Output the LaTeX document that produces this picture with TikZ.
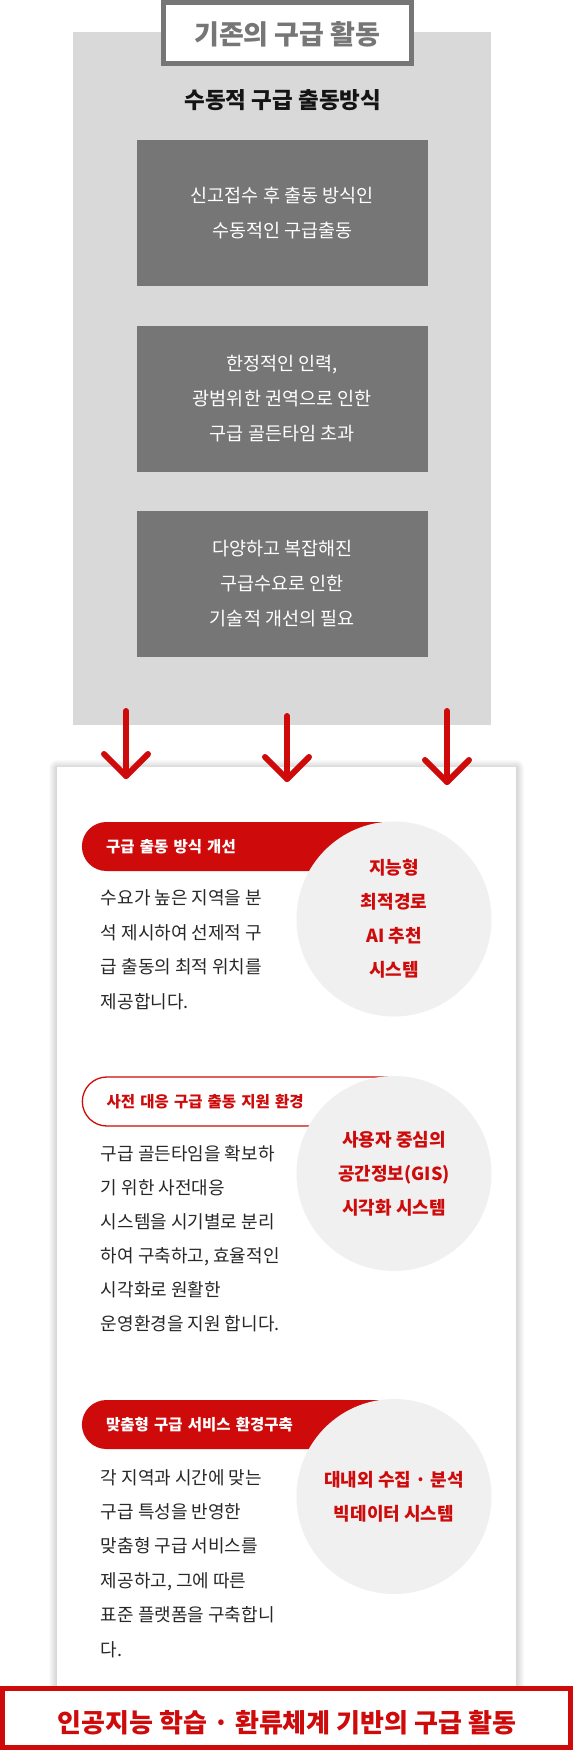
\documentclass[tikz,border=0pt]{standalone}
\usepackage{fontspec}
\setmainfont{Noto Sans CJK KR}
\usetikzlibrary{calc}
\definecolor{kred}{RGB}{206,10,10}
\definecolor{panelgray}{RGB}{217,217,217}
\definecolor{boxgray}{RGB}{118,118,118}
\definecolor{circgray}{RGB}{240,240,240}
\definecolor{bodyink}{RGB}{40,40,40}
\definecolor{titlegray}{RGB}{118,118,118}
\begin{document}
\begin{tikzpicture}[x=1pt,y=-1pt,
  darkbox/.style={fill=boxgray, minimum width=291pt, minimum height=146pt, inner sep=0pt, text=white, align=center, font=\fontsize{18.5}{35}\selectfont},
  circ/.style={circle, fill=circgray, minimum size=195pt, inner sep=0pt, text=kred, align=center, font=\bfseries\fontsize{18}{34}\selectfont},
  pillfill/.style={fill=kred, rounded corners=24.5pt, minimum width=336pt, minimum height=49pt, anchor=west, text width=287.4pt, inner xsep=24.3pt, inner ysep=0pt, align=left, text=white, font=\bfseries\fontsize{15.5}{17}\selectfont},
  pillline/.style={pillfill, fill=white, draw=kred, line width=1.3pt, text=kred},
  bodytxt/.style={anchor=base west, inner sep=0pt, text=bodyink, font=\fontsize{18}{20}\selectfont},
  redarrow/.style={draw=kred, line width=6pt, line cap=round, line join=round}]
\useasboundingbox (0,0) rectangle (576,1752);
\fill[white] (0,0) rectangle (576,1752);
% top panel
\node[fill=panelgray, minimum width=418pt, minimum height=692.7pt, inner sep=0pt, anchor=north west] (panel) at (73,32.3) {};
\node[draw=titlegray, line width=5.3pt, fill=white, minimum width=248pt, minimum height=60.7pt, inner sep=0pt, text=titlegray, text depth=0pt, font=\bfseries\fontsize{27}{30}\selectfont] (title) at (287.3,33) {기존의 구급 활동};
\node[inner sep=0pt, text=black!92, font=\bfseries\fontsize{22.5}{25}\selectfont] (sub) at (282.8,100) {수동적 구급 출동방식};
\node[darkbox] (box1) at (282.2,213) {신고접수 후 출동 방식인\\수동적인 구급출동};
\node[darkbox] (box2) at (282.2,398.5) {한정적인 인력,\\광범위한 권역으로 인한\\구급 골든타임 초과};
\node[darkbox] (box3) at (282.2,583.7) {다양하고 복잡해진\\구급수요로 인한\\기술적 개선의 필요};
% card with shadow
\foreach \k in {1,...,8}
  \fill[black, opacity=0.018, rounded corners=\k pt] ({57-\k},{767-\k+1}) rectangle ({516+\k},{1717+\k});
\node[fill=white, minimum width=459pt, minimum height=950pt, inner sep=0pt, anchor=north west] (card) at (57,767) {};
% section 1
\node[pillfill] (pill1) at (81.7,846.5) {구급 출동 방식 개선};
\node[circ] (circ1) at (394,919) {지능형\\최적경로\\AI 추천\\시스템};
\foreach \t [count=\i] in {수요가 높은 지역을 분, 석 제시하여 선제적 구, 급 출동의 최적 위치를, 제공합니다.}
  \node[bodytxt] (ba\i) at (100.7,{904.8+34.4*(\i-1)}) {\t};
% section 2
\node[pillline] (pill2) at (81.7,1101.5) {사전 대응 구급 출동 지원 환경};
\node[circ] (circ2) at (394,1173.5) {사용자 중심의\\공간정보(GIS)\\시각화 시스템};
\foreach \t [count=\i] in {구급 골든타임을 확보하, 기 위한 사전대응, 시스템을 시기별로 분리, {하여 구축하고, 효율적인}, 시각화로 원활한, 운영환경을 지원 합니다.}
  \node[bodytxt] (bb\i) at (100.7,{1160.1+34.0*(\i-1)}) {\t};
% section 3
\node[pillfill] (pill3) at (81.7,1424.5) {맞춤형 구급 서비스 환경구축};
\node[circ] (circ3) at (394,1496.5) {대내외 수집 · 분석\\빅데이터 시스템};
\foreach \t [count=\i] in {각 지역과 시간에 맞는, 구급 특성을 반영한, 맞춤형 구급 서비스를, {제공하고, 그에 따른}, 표준 플랫폼을 구축합니, 다.}
  \node[bodytxt] (bc\i) at (100.7,{1484.1+34.4*(\i-1)}) {\t};
% bottom box
\node[draw=kred, line width=5pt, fill=white, minimum width=568pt, minimum height=59pt, inner sep=0pt] (bottom) at (286.5,1718) {};
\node[inner sep=0pt, text=kred, font=\bfseries\fontsize{26}{28}\selectfont] (bottomtxt) at (287,1722.5) {인공지능 학습 · 환류체계 기반의 구급 활동};
% arrows
\coordinate (a1s) at (126,711); \coordinate (a1e) at (126,776);
\coordinate (a2s) at (287,716); \coordinate (a2e) at (287,779);
\coordinate (a3s) at (447,711); \coordinate (a3e) at (447,782);
\foreach \a in {1,2,3} {
  \draw[redarrow] (a\a s) -- (a\a e);
  \draw[redarrow] ($(a\a e)+(-22,-22)$) -- (a\a e) -- ($(a\a e)+(22,-22)$);
}
\end{tikzpicture}
\end{document}
